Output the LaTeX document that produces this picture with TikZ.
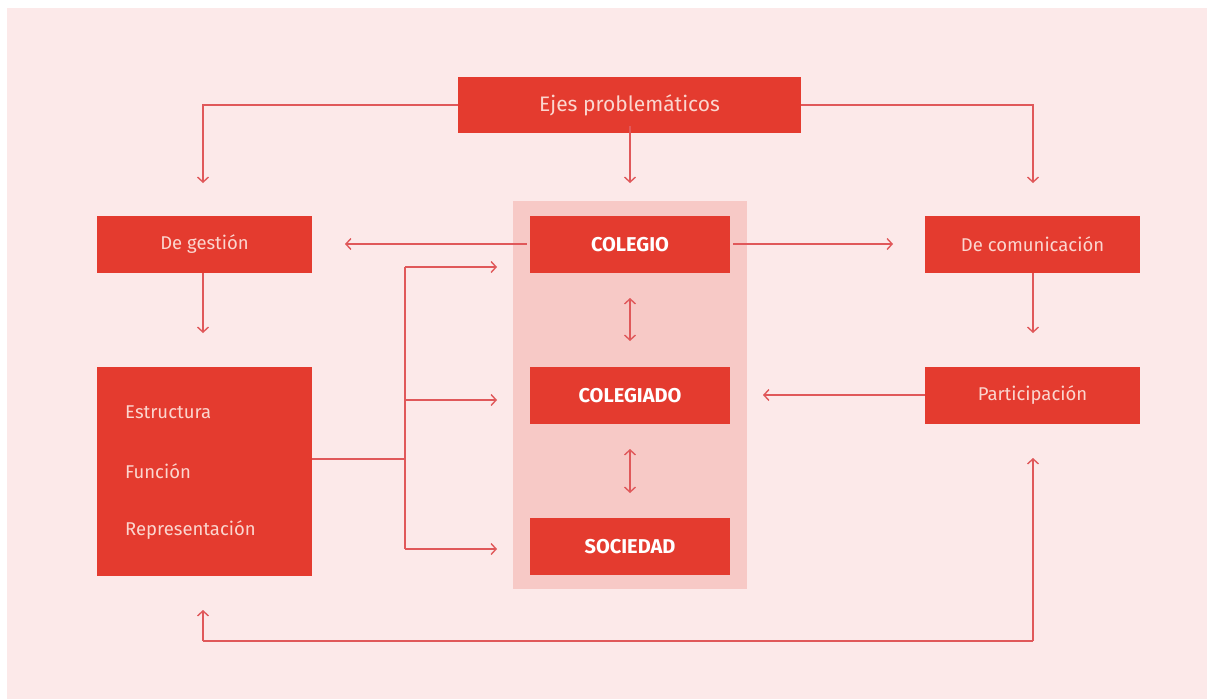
\documentclass[tikz,border=0pt]{standalone}
\usepackage{fontspec}
\setmainfont{Fira Sans}
\usetikzlibrary{arrows.meta}
\definecolor{bgpink}{HTML}{FCE9E9}
\definecolor{boxred}{HTML}{E43B2F}
\definecolor{panel}{HTML}{F7C9C6}
\definecolor{linered}{HTML}{E0585A}
\definecolor{txtpale}{HTML}{FBD6CF}
\tikzset{
  box/.style={fill=boxred, draw=none, minimum width=215pt, minimum height=57pt, inner sep=0pt, text=txtpale, font=\fontsize{18.5}{22}\selectfont},
  cbox/.style={fill=boxred, draw=none, minimum width=200pt, minimum height=57pt, inner sep=0pt, text=white, font=\fontsize{20}{24}\selectfont\bfseries},
  item/.style={anchor=west, text=txtpale, font=\fontsize{18.5}{22}\selectfont, inner sep=0pt},
  conn/.style={draw=linered, line width=1.4pt},
  arr/.style={conn, -{Straight Barb[length=5pt,width=11pt,line width=1.4pt]}},
  darr/.style={conn, {Straight Barb[length=5pt,width=11pt,line width=1.4pt]}-{Straight Barb[length=5pt,width=11pt,line width=1.4pt]}}
}
\begin{document}
\begin{tikzpicture}[x=1pt,y=-1pt]
\useasboundingbox (0,0) rectangle (1212,699);
\fill[white] (0,0) rectangle (1212,699);
\fill[bgpink] (7,8) rectangle (1207,699);
\fill[panel] (513,201) rectangle (747,589);

\node[box, minimum width=343pt, minimum height=56pt, font=\fontsize{21}{25}\selectfont] (ejes) at (629.5,105) {Ejes problemáticos};
\node[box] (gestion) at (204.5,244.5) {De gestión};
\node[cbox] (colegio) at (630,244.5) {COLEGIO};
\node[box] (comun) at (1032.5,244.5) {De comunicación};
\node[box, minimum height=209pt] (estr) at (204.5,471.5) {};
\node[item] (e1) at (125,412) {Estructura};
\node[item] (e2) at (125,471) {Función};
\node[item] (e3) at (125,530) {Representación};
\node[cbox] (colegiado) at (630,395.5) {COLEGIADO};
\node[box] (partic) at (1032.5,395.5) {Participación};
\node[cbox] (sociedad) at (630,546.5) {SOCIEDAD};

\coordinate (gtop) at (203,183);
\coordinate (ctop) at (630,183);
\coordinate (mtop) at (1033,183);
\draw[arr] (ejes.west) -| (gtop);
\draw[arr] ([yshift=7pt]ejes.south -| 630,0) -- (ctop);
\draw[arr] (ejes.east) -| (mtop);

\coordinate (gright) at (345,244);
\coordinate (mleft) at (893,244);
\draw[arr] ([xshift=-3pt]colegio.west |- 0,244) -- (gright);
\draw[arr] ([xshift=3pt]colegio.east |- 0,244) -- (mleft);

\coordinate (gbot) at (203,333);
\coordinate (mbot) at (1033,333);
\draw[arr] (gestion.south -| 203,0) -- (gbot);
\draw[arr] (comun.south -| 1033,0) -- (mbot);

\coordinate (pl) at (763,395);
\draw[arr] (partic.west |- 0,395) -- (pl);

\coordinate (d1a) at (630,298);
\coordinate (d1b) at (630,341);
\coordinate (d2a) at (630,449);
\coordinate (d2b) at (630,493);
\draw[darr] (d1a) -- (d1b);
\draw[darr] (d2a) -- (d2b);

\coordinate (br) at (405,459);
\coordinate (bt) at (405,267);
\coordinate (bb) at (405,549);
\coordinate (a1) at (497,267);
\coordinate (a2) at (497,400);
\coordinate (a3) at (497,549);
\draw[conn] (estr.east |- 0,459) -- (br);
\draw[conn] (bt) -- (bb);
\draw[arr] (bt) -- (a1);
\draw[arr] (405,400) -- (a2);
\draw[arr] (bb) -- (a3);

\coordinate (lb) at (203,641);
\coordinate (rb) at (1033,641);
\coordinate (lt) at (203,610);
\coordinate (rt) at (1033,458);
\draw[conn] (lb) -- (rb);
\draw[arr] (lb) -- (lt);
\draw[arr] (rb) -- (rt);
\end{tikzpicture}
\end{document}
